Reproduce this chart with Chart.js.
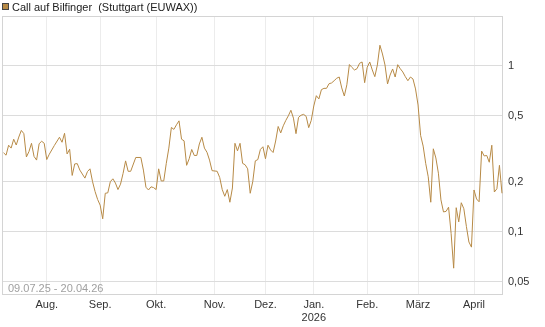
<!DOCTYPE html>
<html>
<head>
<meta charset="utf-8">
<script src="https://cdn.jsdelivr.net/npm/chart.js@4.4.1/dist/chart.umd.min.js"></script>
<style>
	body { margin: 0; background: #fff; }
	#wrap { width: 545px; height: 327px; position: relative; }
</style>
</head>
<body>
<div id="wrap"><canvas id="chart"></canvas></div>
<script>
// Handelstag (Index ab 09.07.25) und Kurs
const days = [
	0, 1, 2, 3, 4, 5, 6, 7, 8, 9,
	10, 11, 12, 13, 14, 15, 16, 17, 18, 20,
	22, 23, 24, 25, 26, 27, 28, 29, 30, 32,
	33, 34, 35, 36, 37, 38, 39, 40, 41, 42,
	43, 44, 45, 46, 47, 48, 49, 50, 52, 54,
	55, 56, 57, 58, 59, 60, 61, 62, 63, 64,
	65, 66, 67, 68, 69, 70, 71, 72, 73, 74,
	75, 76, 77, 78, 79, 80, 81, 82, 84, 85,
	86, 87, 88, 89, 90, 91, 92, 93, 94, 95,
	96, 97, 98, 99, 100, 101, 102, 103, 104, 105,
	106, 107, 108, 109, 110, 111, 112, 113, 114, 115,
	116, 117, 118, 119, 120, 121, 122, 123, 124, 125,
	126, 127, 128, 129, 130, 131, 132, 133, 134, 135,
	136, 137, 138, 139, 140, 141, 142, 143, 144, 145,
	146, 147, 148, 149, 150, 151, 152, 153, 154, 155,
	156, 157, 158, 159, 160, 161, 162, 163, 164, 165,
	166, 167, 168, 169, 170, 171, 172, 173, 174, 175,
	176, 177, 178, 179, 180, 181, 182, 183, 184, 185,
	186, 187, 188, 189, 190, 191, 192, 193, 194, 195,
	196
];
const prices = [
	0.300, 0.290, 0.333, 0.320, 0.362, 0.334, 0.373, 0.409, 0.391, 0.283,
	0.305, 0.342, 0.285, 0.271, 0.340, 0.352, 0.342, 0.273, 0.294, 0.332,
	0.372, 0.347, 0.393, 0.295, 0.315, 0.219, 0.257, 0.258, 0.236, 0.211,
	0.231, 0.240, 0.201, 0.175, 0.157, 0.145, 0.120, 0.171, 0.172, 0.201,
	0.209, 0.197, 0.180, 0.194, 0.225, 0.268, 0.232, 0.232, 0.281, 0.281,
	0.236, 0.186, 0.179, 0.187, 0.185, 0.180, 0.240, 0.203, 0.203, 0.259,
	0.320, 0.426, 0.415, 0.442, 0.467, 0.362, 0.354, 0.252, 0.276, 0.314,
	0.289, 0.289, 0.339, 0.372, 0.320, 0.302, 0.271, 0.234, 0.232, 0.213,
	0.180, 0.164, 0.180, 0.151, 0.184, 0.342, 0.308, 0.342, 0.259, 0.254,
	0.240, 0.171, 0.201, 0.268, 0.273, 0.314, 0.326, 0.276, 0.333, 0.312,
	0.301, 0.353, 0.432, 0.395, 0.436, 0.470, 0.501, 0.541, 0.485, 0.391,
	0.490, 0.505, 0.511, 0.497, 0.425, 0.470, 0.574, 0.662, 0.633, 0.720,
	0.733, 0.733, 0.782, 0.790, 0.815, 0.843, 0.858, 0.737, 0.659, 0.770,
	1.020, 0.980, 0.946, 0.963, 1.038, 1.057, 0.793, 0.982, 1.057, 0.946,
	0.862, 1.014, 1.333, 1.181, 1.014, 0.779, 0.882, 0.959, 0.858, 1.018,
	0.963, 0.920, 0.862, 0.815, 0.858, 0.835, 0.727, 0.582, 0.382, 0.329,
	0.259, 0.215, 0.151, 0.317, 0.279, 0.226, 0.156, 0.132, 0.133, 0.141,
	0.098, 0.0605, 0.140, 0.115, 0.150, 0.138, 0.108, 0.087, 0.081, 0.179,
	0.158, 0.152, 0.307, 0.287, 0.289, 0.263, 0.333, 0.174, 0.182, 0.252,
	0.171
];
// Monatsanfang als Handelstag-Index
const monthTicks = [17, 38, 60, 83, 103, 122, 143, 163, 185];
const monthLabels = ['Aug.', 'Sep.', 'Okt.', 'Nov.', 'Dez.', ['Jan.', '2026'], 'Feb.', 'März', 'April'];
const yTicks = [0.05, 0.1, 0.2, 0.5, 1];

const seriesName = 'Call auf Bilfinger  (Stuttgart (EUWAX))';
const rangeText = '09.07.25 - 20.04.26';
const lineColor = '#b78a46';
const fontFamily = "'Liberation Sans', Arial, sans-serif";

const points = days.map((d, i) => ({ x: d, y: prices[i] }));

// Rahmen um die Zeichenfläche
const framePlugin = {
	id: 'frame',
	beforeDatasetsDraw(chart) {
		const ctx = chart.ctx;
		const a = chart.chartArea;
		ctx.save();
		ctx.strokeStyle = '#d4d4d4';
		ctx.lineWidth = 1;
		ctx.strokeRect(Math.round(a.left) + 0.5, Math.round(a.top) + 0.5,
			Math.round(a.right - a.left) - 1, Math.round(a.bottom - a.top) - 1);
		ctx.restore();
	},
	afterDraw(chart) {
		const ctx = chart.ctx;
		ctx.save();
		// Legende
		ctx.fillStyle = lineColor;
		ctx.fillRect(2, 3, 7, 7);
		ctx.strokeStyle = '#444';
		ctx.lineWidth = 1;
		ctx.strokeRect(2.5, 3.5, 6, 6);
		ctx.font = '11px ' + fontFamily;
		ctx.textBaseline = 'alphabetic';
		ctx.fillStyle = '#222';
		ctx.fillText(seriesName, 12, 11);
		// Zeitraum
		ctx.fillStyle = '#a0a0a0';
		ctx.fillText(rangeText, 8, 292);
		ctx.restore();
	}
};

const ctx = document.getElementById('chart').getContext('2d');
const chart = new Chart(ctx, {
	type: 'line',
	data: {
		datasets: [
			{
				label: seriesName,
				data: points,
				borderColor: lineColor,
				borderWidth: 1,
				pointRadius: 0,
				tension: 0,
				fill: false
			}
		]
	},
	options: {
		responsive: true,
		maintainAspectRatio: false,
		animation: false,
		layout: {
			padding: { left: 2, top: 16, right: 0, bottom: 0 }
		},
		plugins: {
			legend: { display: false },
			tooltip: { enabled: false }
		},
		scales: {
			x: {
				type: 'linear',
				min: -0.6,
				max: 196.4,
				afterBuildTicks: axis => {
					axis.ticks = monthTicks.map(v => ({ value: v }));
				},
				afterFit: axis => {
					axis.height = 32;
				},
				ticks: {
					autoSkip: false,
					maxRotation: 0,
					padding: 3,
					color: '#333',
					font: { family: fontFamily, size: 11 },
					callback: (value, index) => monthLabels[index]
				},
				grid: {
					color: '#ececec',
					drawTicks: false
				},
				border: { display: false }
			},
			y: {
				type: 'logarithmic',
				position: 'right',
				min: 0.0417,
				max: 2.0,
				afterBuildTicks: axis => {
					axis.ticks = yTicks.map(v => ({ value: v }));
				},
				afterFit: axis => {
					axis.width = 42;
				},
				ticks: {
					padding: 5,
					color: '#333',
					font: { family: fontFamily, size: 11 },
					callback: value => String(value).replace('.', ',')
				},
				grid: {
					color: '#dcdcdc',
					drawTicks: false
				},
				border: { display: false }
			}
		}
	},
	plugins: [framePlugin]
});
</script>
</body>
</html>
